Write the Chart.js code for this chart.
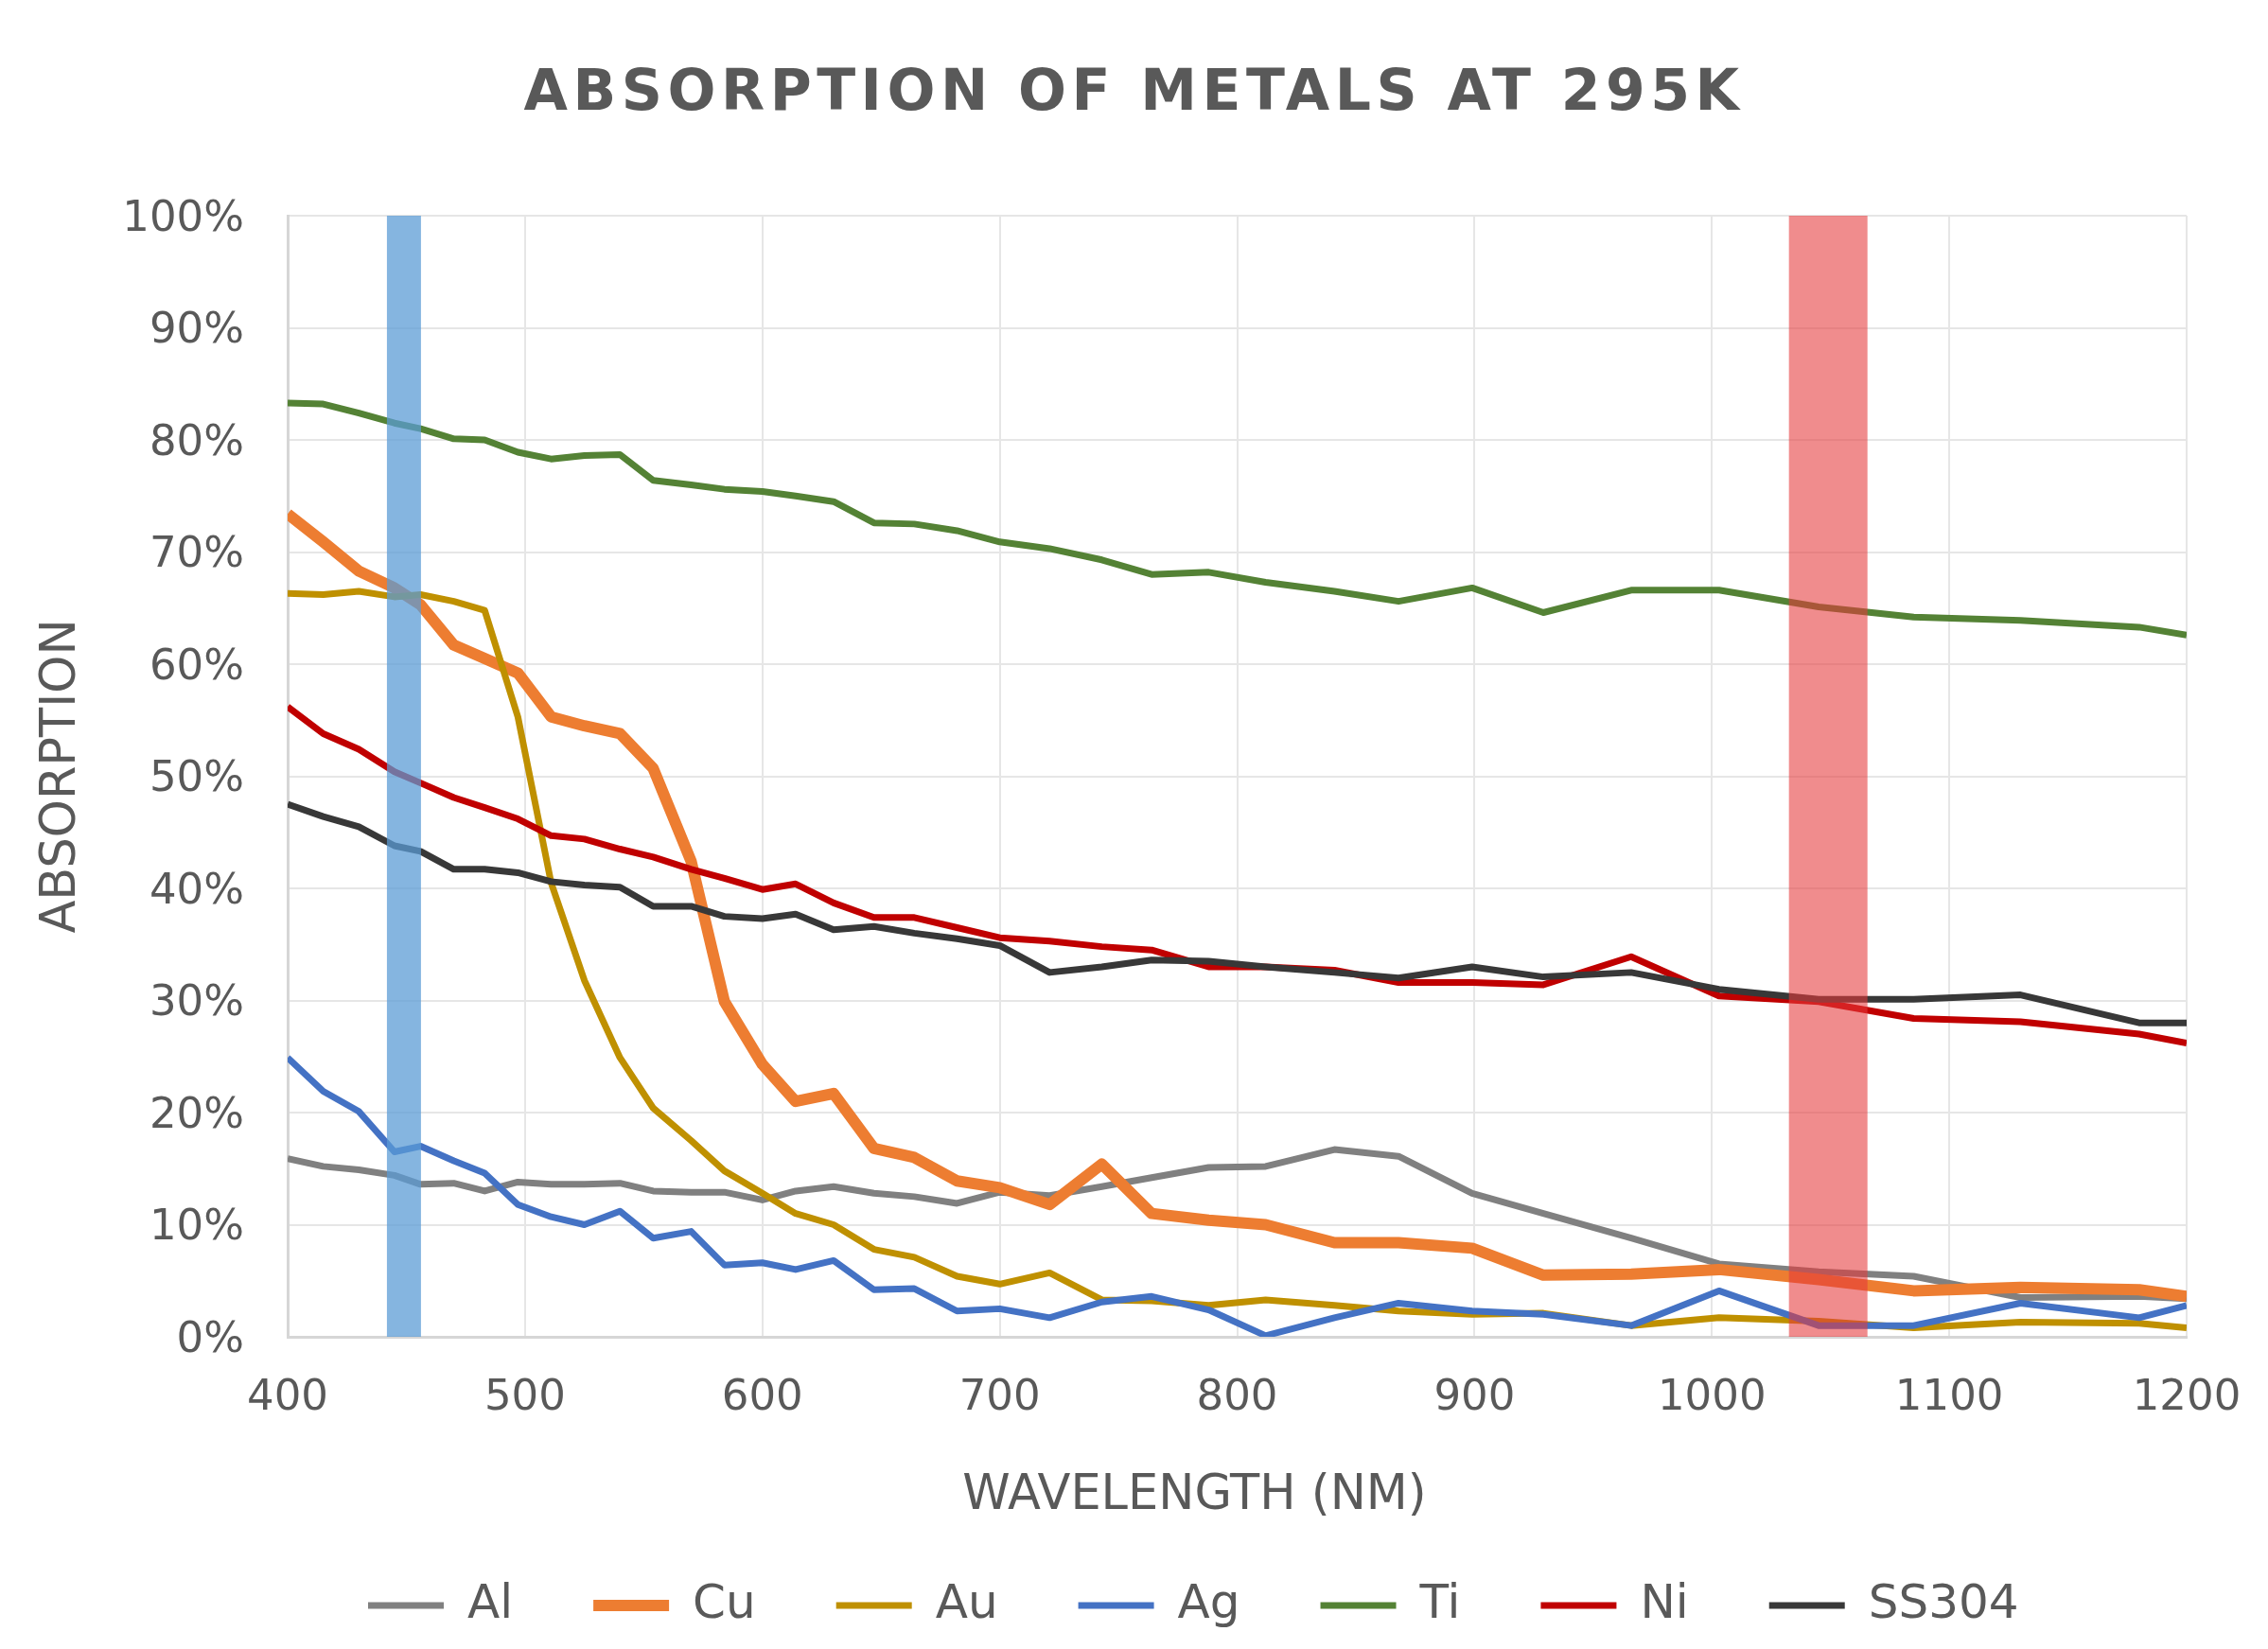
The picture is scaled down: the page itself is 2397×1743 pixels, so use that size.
<!DOCTYPE html>
<html>
<head>
<meta charset="utf-8">
<script src="https://cdn.jsdelivr.net/npm/chart.js@4.4.1/dist/chart.umd.min.js"></script>
<style>
html, body { margin: 0; padding: 0; background: #ffffff; }
canvas { display: block; }
</style>
</head>
<body>
<canvas id="chart" width="2397" height="1743"></canvas>
<script>
// ---------- DATA ----------
const wavelengths = [400, 415, 430, 445, 456, 470, 483, 497, 511, 525, 540, 554, 570, 584, 600, 614, 630, 647, 664, 682, 700, 721, 743, 764, 788, 812, 841, 868, 899, 929, 966, 1003, 1045, 1085, 1130, 1180, 1200];
const seriesNames = ['Al', 'Cu', 'Au', 'Ag', 'Ti', 'Ni', 'SS304'];
const alValues = [15.9, 15.2, 14.9, 14.4, 13.6, 13.7, 13.0, 13.8, 13.6, 13.6, 13.7, 13.0, 12.9, 12.9, 12.2, 13.0, 13.4, 12.8, 12.5, 11.9, 12.9, 12.6, 13.4, 14.2, 15.1, 15.2, 16.7, 16.1, 12.8, 11.0, 8.8, 6.5, 5.8, 5.4, 3.5, 3.6, 3.4];
const cuValues = [73.4, 70.9, 68.3, 66.8, 65.3, 61.7, 60.5, 59.2, 55.3, 54.5, 53.8, 50.7, 42.4, 29.9, 24.3, 21.0, 21.7, 16.8, 16.0, 13.9, 13.3, 11.8, 15.4, 11.0, 10.4, 10.0, 8.4, 8.4, 7.9, 5.5, 5.6, 6.0, 5.1, 4.1, 4.4, 4.2, 3.6];
const auValues = [66.3, 66.2, 66.5, 66.0, 66.2, 65.6, 64.8, 55.3, 40.5, 31.8, 24.9, 20.4, 17.5, 14.8, 12.8, 11.0, 10.0, 7.8, 7.1, 5.4, 4.7, 5.7, 3.3, 3.2, 2.8, 3.3, 2.8, 2.3, 2.0, 2.1, 1.0, 1.7, 1.4, 0.8, 1.3, 1.2, 0.8];
const agValues = [24.9, 21.9, 20.1, 16.5, 17.0, 15.7, 14.6, 11.8, 10.7, 10.0, 11.2, 8.8, 9.4, 6.4, 6.6, 6.0, 6.8, 4.2, 4.3, 2.3, 2.5, 1.7, 3.1, 3.6, 2.4, 0.1, 1.7, 3.0, 2.3, 2.0, 1.0, 4.1, 1.0, 1.0, 3.0, 1.7, 2.8];
const tiValues = [83.3, 83.2, 82.4, 81.5, 81.0, 80.1, 80.0, 78.9, 78.3, 78.6, 78.7, 76.4, 76.0, 75.6, 75.4, 75.0, 74.5, 72.6, 72.5, 71.9, 70.9, 70.3, 69.3, 68.0, 68.2, 67.3, 66.5, 65.6, 66.8, 64.6, 66.6, 66.6, 65.1, 64.2, 63.9, 63.3, 62.6];
const niValues = [56.2, 53.8, 52.4, 50.4, 49.4, 48.1, 47.2, 46.2, 44.7, 44.4, 43.5, 42.8, 41.7, 40.9, 39.9, 40.4, 38.7, 37.4, 37.4, 36.5, 35.6, 35.3, 34.8, 34.5, 33.0, 33.0, 32.7, 31.6, 31.6, 31.4, 33.9, 30.4, 29.9, 28.4, 28.1, 27.0, 26.2];
const ss304Values = [47.5, 46.4, 45.5, 43.8, 43.3, 41.7, 41.7, 41.4, 40.6, 40.3, 40.1, 38.4, 38.4, 37.5, 37.3, 37.7, 36.3, 36.6, 36.0, 35.5, 34.9, 32.5, 33.0, 33.6, 33.5, 33.0, 32.5, 32.0, 33.0, 32.1, 32.5, 31.0, 30.1, 30.1, 30.5, 28.0, 28.0];
// laser wavelength markers (nm) spanning the full absorption range
const laserMarkersNm = [449, 1049];
const markerRange = [0, 100];
// tick labels
const xTickValues = [400, 500, 600, 700, 800, 900, 1000, 1100, 1200];
const yTickValues = [0, 10, 20, 30, 40, 50, 60, 70, 80, 90, 100];
const titleText = 'ABSORPTION OF METALS AT 295K';
const xTitleText = 'WAVELENGTH (NM)';
const yTitleText = 'ABSORPTION';

// ---------- STYLE ----------
const FONT = "'DejaVu Sans', Verdana, sans-serif";
const TEXT = '#595959';
const seriesValues = [alValues, cuValues, auValues, agValues, tiValues, niValues, ss304Values];
const seriesColors = ['#808080', '#ED7D31', '#BF9000', '#4472C4', '#548235', '#C00000', '#383838'];
const seriesWidths = [7, 12, 7, 7, 7, 7, 7];
const markerColors = ['rgba(91,155,213,0.74)', 'rgba(229,57,58,0.58)'];
const markerWidths = [36, 83];

const datasets = seriesNames.map((name, i) => ({
  label: name,
  data: wavelengths.map((w, k) => ({ x: w, y: seriesValues[i][k] })),
  borderColor: seriesColors[i],
  backgroundColor: seriesColors[i],
  borderWidth: seriesWidths[i],
  pointBorderWidth: seriesWidths[i],
  pointBorderColor: seriesColors[i],
  pointBackgroundColor: seriesColors[i],
  pointRadius: 0,
  pointHoverRadius: 0,
  tension: 0,
  borderJoinStyle: 'round',
  borderCapStyle: 'butt',
  order: seriesNames.length - i
}));
laserMarkersNm.forEach((nm, j) => {
  datasets.push({
    label: 'marker' + j,
    data: markerRange.map(v => ({ x: nm, y: v })),
    borderColor: markerColors[j],
    backgroundColor: markerColors[j],
    borderWidth: markerWidths[j],
    pointRadius: 0,
    borderCapStyle: 'butt',
    order: 0,
    isMarker: true
  });
});

// letter-spaced chart title and shifted x-axis title
const textTweaks = {
  id: 'textTweaks',
  beforeDraw(chart) {
    const tb = chart.titleBlock;
    if (tb && !tb._spaced) {
      const orig = tb.draw.bind(tb);
      tb.draw = function (...args) {
        const ctx = this.ctx;
        ctx.save();
        ctx.letterSpacing = '5.5px';
        orig(...args);
        ctx.restore();
      };
      tb._spaced = true;
    }
    const sx = chart.scales.x;
    if (sx && !sx._shifted) {
      const origT = sx.drawTitle.bind(sx);
      sx.drawTitle = function (...args) {
        const ctx = this.ctx;
        ctx.save();
        ctx.translate(-45, 0);
        origT(...args);
        ctx.restore();
      };
      sx._shifted = true;
    }
  }
};

new Chart(document.getElementById('chart'), {
  type: 'line',
  data: { datasets },
  plugins: [textTweaks],
  options: {
    responsive: false,
    animation: false,
    devicePixelRatio: 1,
    events: [],
    layout: { padding: { top: 0, left: 0, right: 0, bottom: 11 } },
    plugins: {
      tooltip: { enabled: false },
      title: {
        display: true,
        text: titleText,
        color: TEXT,
        font: { family: FONT, size: 60, weight: 'bold', lineHeight: 1.2 },
        padding: { top: 64, bottom: 92 }
      },
      legend: {
        display: true,
        position: 'bottom',
        fullSize: false,
        align: 'start',
        labels: {
          usePointStyle: true,
          pointStyle: 'line',
          pointStyleWidth: 80,
          padding: 85,
          color: TEXT,
          font: { family: FONT, size: 50 },
          filter: (item, data) => !data.datasets[item.datasetIndex].isMarker,
          sort: (a, b) => a.datasetIndex - b.datasetIndex
        }
      }
    },
    scales: {
      x: {
        type: 'linear',
        position: 'bottom',
        min: 400,
        max: 1200,
        afterBuildTicks: s => { s.ticks = xTickValues.map(v => ({ value: v })); },
        afterFit: s => { s.height = 174; },
        ticks: { color: TEXT, font: { family: FONT, size: 45, lineHeight: 2 }, padding: 20, maxRotation: 0, autoSkip: false, callback: v => String(v) },
        grid: { color: '#E6E6E6', lineWidth: 2, drawTicks: false },
        border: { color: '#D6D6D6', width: 3 },
        title: {
          display: true,
          text: xTitleText,
          color: TEXT,
          font: { family: FONT, size: 51, lineHeight: 1.2 },
          padding: { top: 0, bottom: -25 }
        }
      },
      y: {
        type: 'linear',
        position: 'left',
        min: 0,
        max: 100,
        afterBuildTicks: s => { s.ticks = yTickValues.map(v => ({ value: v })); },
        afterFit: s => { s.width = 304; },
        ticks: { color: TEXT, font: { family: FONT, size: 45 }, padding: 46, labelOffset: 4, callback: v => v + '%' },
        grid: { color: '#E6E6E6', lineWidth: 2, drawTicks: false },
        border: { color: '#D6D6D6', width: 3 },
        title: {
          display: true,
          text: yTitleText,
          color: TEXT,
          font: { family: FONT, size: 51, lineHeight: 1.2 },
          padding: { top: 35, bottom: 0 }
        }
      },
      spacer: {
        type: 'linear',
        position: 'right',
        display: true,
        afterFit: s => { s.width = 86; },
        ticks: { display: false },
        grid: { display: false },
        border: { display: false }
      }
    }
  }
});
</script>
</body>
</html>
